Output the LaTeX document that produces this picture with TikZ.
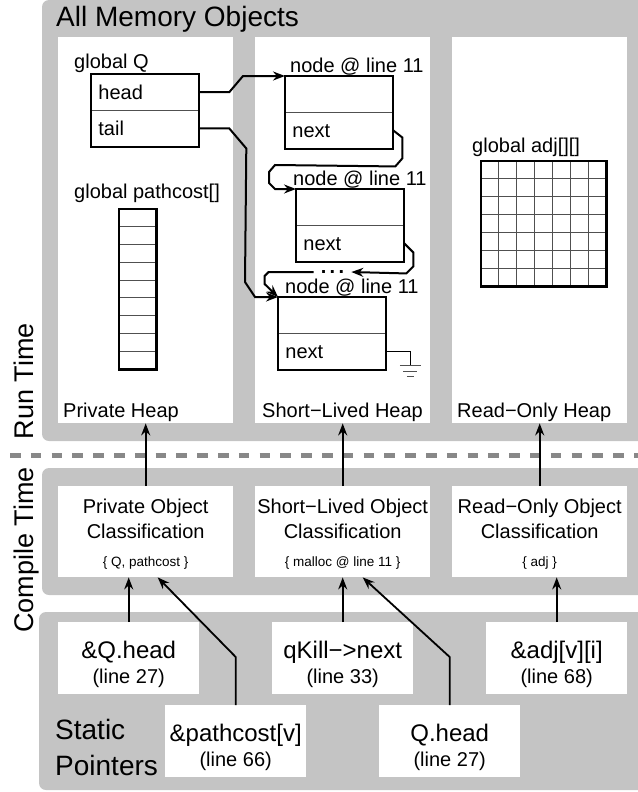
\documentclass[tikz,border=0pt]{standalone}
\usepackage{fontspec}
\setmainfont{Liberation Sans}
\usetikzlibrary{arrows.meta,calc,positioning}
\definecolor{Band}{HTML}{C4C4C4}
\definecolor{Dash}{HTML}{888888}
\definecolor{Rule}{HTML}{505050}
\newcommand{\pxfont}[2]{\fontsize{#1}{#2}\selectfont}
\newcommand{\clslines}[2]{\rule{0pt}{20pt}#1\\Classification\\[3pt]{\pxfont{13.5}{16}\{ #2 \}}}
\newcommand{\ptrlines}[2]{\rule{0pt}{29pt}#1\\{\pxfont{20}{25}(#2)}}

\begin{document}
\begin{tikzpicture}[x=1pt,y=-1pt,
    band/.style={fill=Band,rounded corners=7pt},
    panel/.style={fill=white,anchor=north west,inner sep=0pt,minimum width=175pt,minimum height=386pt},
    clsbox/.style={fill=white,anchor=north west,inner sep=0pt,minimum width=175pt,minimum height=91pt,align=center,font=\pxfont{20}{25}},
    ptrbox/.style={fill=white,anchor=north west,inner sep=0pt,minimum width=141pt,minimum height=72pt,align=center,font=\pxfont{24}{25}},
    lbl/.style={anchor=base west,inner sep=0pt,font=\pxfont{20}{24}},
    field/.style={draw=Rule,line width=0.8pt,anchor=north west,inner ysep=0pt,inner xsep=7pt,text width=93.5pt,minimum height=35.5pt,text height=14pt,text depth=0pt,align=left,font=\pxfont{20}{24}},
    strong/.style={draw=black,line width=2.2pt},
    cell/.style={draw=Rule,line width=0.8pt},
    link/.style={draw,line width=2pt,-{Stealth[length=12pt,width=9pt,inset=4pt]}},
    feed/.style={draw,line width=1.8pt,-{Stealth[length=12pt,width=9pt,inset=4pt]}},
    side/.style={rotate=90,anchor=base,inner sep=0pt,font=\pxfont{27}{30}}
  ]
  \useasboundingbox (0,0) rectangle (637,792);

  \path[band] (42,0) rectangle (652,441);
  \path[band] (42,468) rectangle (652,595);
  \path[band] (39,612) rectangle (652,790);
  \draw[Dash,line width=5pt,dash pattern=on 10.5pt off 10.3pt] (10,455) -- (640,455);

  \node[anchor=base west,inner sep=0pt,font=\pxfont{28}{30}] (title) at (56,27) {All Memory Objects};
  \node[side] (rtlbl) at (33,381) {Run Time};
  \node[side] (ctlbl) at (33,550) {Compile Time};

  \node[panel] (privheap) at (58,37) {};
  \node[panel] (slheap) at (255,37) {};
  \node[panel] (roheap) at (452,37) {};
  \node[lbl] (privlbl) at (63,417) {Private Heap};
  \node[lbl] (sllbl) at (262,417) {Short−Lived Heap};
  \node[lbl] (rolbl) at (457,417) {Read−Only Heap};

  \node[lbl] (qname) at (74,68) {global Q};
  \node[field] (qhead) at (91,74) {head};
  \node[field] (qtail) at (qhead.south west) {tail};
  \draw[strong] (qhead.north west) rectangle (qtail.south east);

  \node[lbl] (pcname) at (74,198) {global pathcost[]};
  \node[anchor=north west,inner sep=0pt,minimum width=37pt,minimum height=160pt] (pcarr) at (119,209) {};
  \foreach \k in {1,...,8}
    \draw[cell] ($(pcarr.north west)+(0,\k*160/9)$) -- ++(37,0);
  \draw[strong] (pcarr.north west) rectangle (pcarr.south east);

  \node[lbl] (adjname) at (472,152) {global adj[][]};
  \node[anchor=north west,inner sep=0pt,minimum size=125pt] (adjarr) at (481,161) {};
  \foreach \k in {1,...,6} {
    \draw[cell] ($(adjarr.north west)+(0,\k*125/7)$) -- ++(125,0);
    \draw[cell] ($(adjarr.north west)+(\k*125/7,0)$) -- ++(0,125);
  }
  \draw[strong] (adjarr.north west) rectangle (adjarr.south east);

  \node[lbl] (lst1name) at (290,73) {node @ line 11};
  \node[field] (lst1) at (285,76) {};
  \node[field] (lst1nx) at (lst1.south west) {next};
  \draw[strong] (lst1.north west) rectangle (lst1nx.south east);
  \node[lbl] (lst2name) at (293,185) {node @ line 11};
  \node[field] (lst2) at (296,189) {};
  \node[field] (lst2nx) at (lst2.south west) {next};
  \draw[strong] (lst2.north west) rectangle (lst2nx.south east);
  \node[lbl] (lst3name) at (285,293) {node @ line 11};
  \node[field] (lst3) at (278,297) {};
  \node[field] (lst3nx) at (lst3.south west) {next};
  \draw[strong] (lst3.north west) rectangle (lst3nx.south east);
  \node[inner xsep=7pt,inner ysep=0pt,anchor=base,font=\bfseries\pxfont{20}{20}] (dots) at (332.5,273.5) {.\,.\,.};

  \draw[link] (qhead.east) -- ++(30,0) -- ($(lst1.north west)+(-42,0)$) -- (lst1.north west);
  \draw[link] (qtail.east) -- ++(30,0) -- ++(17,20) -- ($(lst3.north west)+(-33,-15)$) -- ($(lst3.north west)+(-23,0)$) -- (lst3.north west);
  \draw[link] (lst1nx.east) -- ++(9,7) -- ++(0,21) -- ++(-7,8) -- ($(lst2.north west)+(-21,-24)$) -- ++(-6,7) -- ++(0,11) -- ++(6,6) -- (lst2.north west);
  \draw[link] (lst2nx.east) -- ++(9,9) -- ++(0,14) -- ++(-7,7) -- (dots.east);
  \draw[link] (dots.west) -- ++(-45,0) -- ++(-4,4) -- ++(0,8) -- (lst3.north west);
  \draw[line width=1pt] (lst3nx.east) -| ++(24,14) coordinate (gnd);
  \draw[Rule,line width=1pt] ($(gnd)+(-10.5,0)$) -- ++(21,0) ($(gnd)+(-7,6)$) -- ++(14,0) ($(gnd)+(-3.5,11)$) -- ++(7,0);

  \node[clsbox] (privcls) at (58,486) {\clslines{Private Object}{Q, pathcost}};
  \node[clsbox] (slcls) at (255,486) {\clslines{Short−Lived Object}{malloc @ line 11}};
  \node[clsbox] (rocls) at (452,486) {\clslines{Read−Only Object}{adj}};
  \draw[link] (privcls.north) -- (privcls.north |- privheap.south);
  \draw[link] (slcls.north) -- (slcls.north |- slheap.south);
  \draw[link] (rocls.north) -- (rocls.north |- roheap.south);

  \node[anchor=west,inner sep=0pt,align=left,font=\pxfont{28}{36}] (sptitle) at (55,747) {Static\\Pointers};
  \node[ptrbox] (qhptr) at (58,622) {\ptrlines{\&Q.head}{line 27}};
  \node[ptrbox] (qkptr) at (272,622) {\ptrlines{qKill−>next}{line 33}};
  \node[ptrbox] (adjptr) at (486,622) {\ptrlines{\&adj[v][i]}{line 68}};
  \node[ptrbox] (pcptr) at (165,705) {\ptrlines{\&pathcost[v]}{line 66}};
  \node[ptrbox] (qptr) at (379,705) {\ptrlines{Q.head}{line 27}};
  \draw[feed] (qhptr.north) -- (qhptr.north |- privcls.south);
  \draw[feed] (pcptr.north) -- ++(0,-48) -- ($(privcls.south)+(12,0)$);
  \draw[feed] (qkptr.north) -- (qkptr.north |- slcls.south);
  \draw[feed] (qptr.north) -- ++(0,-48) -- ($(slcls.south)+(20,0)$);
  \draw[feed] (adjptr.north) -- (adjptr.north |- rocls.south);
\end{tikzpicture}
\end{document}
